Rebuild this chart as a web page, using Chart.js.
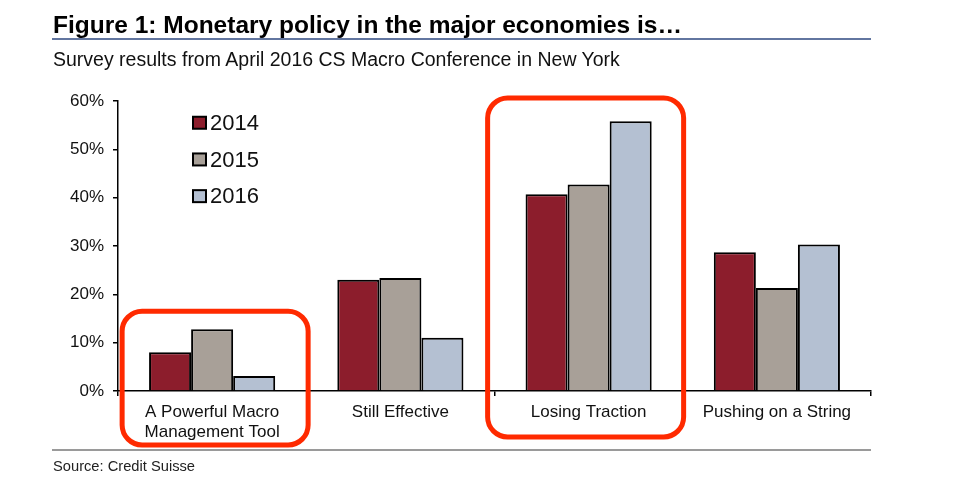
<!DOCTYPE html>
<html>
<head>
<meta charset="utf-8">
<script src="https://cdn.jsdelivr.net/npm/chart.js@4"></script>
<style>
  body { margin: 0; background: #fff; font-family: "Liberation Sans", Arial, sans-serif; }
  #wrap { position: relative; width: 959px; height: 480px; }
  #myChart { position: absolute; left: 0; top: 0; }
  .title { position: absolute; left: 53px; top: 11px; font-size: 24.5px; font-weight: bold; color: #000; }
  .rule { position: absolute; left: 52px; top: 38px; width: 819px; height: 2px; background: #6276a0; }
  .sub { position: absolute; left: 53px; top: 48px; font-size: 19.5px; color: #111; }
  .srcline { position: absolute; left: 52px; top: 449px; width: 819px; height: 2px; background: #9a9a9a; }
  .src { position: absolute; left: 53px; top: 458px; font-size: 14.7px; color: #222; }
</style>
</head>
<body>
<div id="wrap">
  <canvas id="myChart" width="959" height="480"></canvas>
  <div class="title">Figure 1: Monetary policy in the major economies is…</div>
  <div class="rule"></div>
  <div class="sub">Survey results from April 2016 CS Macro Conference in New York</div>
  <div class="srcline"></div>
  <div class="src">Source: Credit Suisse</div>
</div>
<script>
// 데이터
const categories = [["A Powerful Macro", "Management Tool"], "Still Effective", "Losing Traction", "Pushing on a String"];
const years = ["2014", "2015", "2016"];
const data2014 = [8, 23, 40.7, 28.7];
const data2015 = [12.8, 23.4, 42.7, 21.3];
const data2016 = [3.1, 11, 55.8, 30.3];
const colors = ["#8c1d2c", "#a8a098", "#b4c0d2"];
const highlighted = [0, 2]; // 빨간 박스 표시할 그룹

// 범례 (차트 안쪽, 세로)
const innerLegend = {
  id: "innerLegend",
  afterDraw(chart) {
    const ctx = chart.ctx;
    const x = chart.scales.x.left + 75;
    let y = chart.scales.y.getPixelForValue(55.5);
    ctx.save();
    ctx.font = "22px 'Liberation Sans', Arial";
    ctx.textBaseline = "middle";
    chart.data.datasets.forEach(function(ds) {
      ctx.fillStyle = ds.backgroundColor;
      ctx.fillRect(x, y - 6, 13, 12);
      ctx.lineWidth = 2;
      ctx.strokeStyle = "#000";
      ctx.strokeRect(x, y - 6, 13, 12);
      ctx.fillStyle = "#111";
      ctx.fillText(ds.label, x + 17, y + 1);
      y += 36.7;
    });
    ctx.restore();
  }
};

// 빨간 둥근 박스
const redBoxes = {
  id: "redBoxes",
  afterDraw(chart) {
    const ctx = chart.ctx;
    const xs = chart.scales.x;
    const ys = chart.scales.y;
    ctx.save();
    ctx.strokeStyle = "#ff2a00";
    ctx.lineWidth = 5;
    highlighted.forEach(function(i) {
      const c = xs.getPixelForValue(i);
      let left, right, top, bottom;
      if (i == 0) {
        left = c - 90; right = c + 96;
        top = ys.getPixelForValue(16.5); bottom = 445;
      } else {
        left = c - 101; right = c + 95;
        top = ys.top - 3; bottom = 437;
      }
      ctx.beginPath();
      ctx.roundRect(left, top, right - left, bottom - top, 20);
      ctx.stroke();
    });
    ctx.restore();
  }
};

const ctx = document.getElementById("myChart");

new Chart(ctx, {
  type: "bar",
  data: {
    labels: categories,
    datasets: [
      { label: years[0], data: data2014, backgroundColor: colors[0] },
      { label: years[1], data: data2015, backgroundColor: colors[1] },
      { label: years[2], data: data2016, backgroundColor: colors[2] }
    ].map(function(d) {
      d.borderColor = "#000";
      d.borderWidth = 2;
      d.categoryPercentage = 0.67;
      d.barPercentage = 1.0;
      return d;
    })
  },
  options: {
    responsive: false,
    animation: false,
    layout: { padding: { left: 0, top: 101, right: 88, bottom: 0 } },
    plugins: {
      legend: { display: false },
      tooltip: { enabled: false }
    },
    scales: {
      x: {
        afterFit: function(s) { s.height = 89; },
        grid: { drawOnChartArea: false, drawTicks: true, tickLength: 5, color: "#000", lineWidth: 1.5, offset: true },
        border: { color: "#000", width: 1.5 },
        ticks: { color: "#111", font: { family: "'Liberation Sans', Arial", size: 17 }, padding: 6, maxRotation: 0, autoSkip: false }
      },
      y: {
        min: 0, max: 60,
        afterFit: function(s) { s.width = 118; },
        grid: { drawOnChartArea: false, drawTicks: true, tickLength: 5, color: "#000", lineWidth: 1.5 },
        border: { color: "#000", width: 1.5 },
        ticks: {
          stepSize: 10,
          color: "#111",
          font: { family: "'Liberation Sans', Arial", size: 17 },
          padding: 9,
          callback: function(v) { return v + "%"; }
        }
      }
    }
  },
  plugins: [innerLegend, redBoxes]
});
</script>
</body>
</html>
